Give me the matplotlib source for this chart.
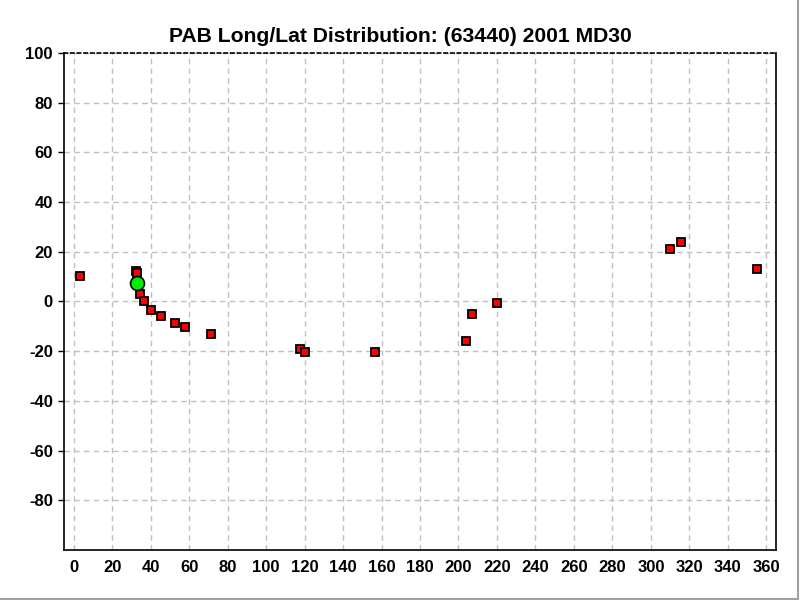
import matplotlib
matplotlib.use('Agg')
import matplotlib.pyplot as plt
from matplotlib.lines import Line2D

plt.rcParams['font.family'] = ['Liberation Sans', 'DejaVu Sans']
plt.rcParams['axes.unicode_minus'] = False

# observed long/lat of the red squares
long_obs = [3.3, 32.4, 33.0, 34.5, 36.6, 40.2, 45.4, 52.7, 57.9, 71.4,
            117.8, 120.3, 156.8, 203.8, 207.2, 220.2, 309.7, 315.4, 355.0]
lat_obs = [10.3, 12.4, 11.4, 3.1, 0.0, -3.3, -5.7, -8.6, -10.2, -13.0,
           -19.0, -20.2, -20.2, -15.8, -4.9, -0.5, 21.2, 24.0, 13.1]

# current position (green circle)
long_now = [33.1]
lat_now = [7.3]

xticks = list(range(0, 361, 20))
yticks = list(range(-80, 101, 20))

fig = plt.figure(figsize=(8, 6), dpi=100)
ax = fig.add_axes([0.08, 0.0833, 0.89, 0.8284])

ax.plot(long_obs, lat_obs, linestyle='none', marker='s', markersize=6.4,
        markerfacecolor='#ff0000', markeredgecolor='black', markeredgewidth=1.3, zorder=3)
ax.plot(long_now, lat_now, linestyle='none', marker='o', markersize=10,
        markerfacecolor='#00ee00', markeredgecolor='black', markeredgewidth=1.2, zorder=4)

ax.set_xlim(-5, 365)
ax.set_ylim(-100, 100)
ax.set_xticks(xticks)
ax.set_yticks(yticks)
ax.grid(True, color='#c0c0c0', linestyle=(0, (4, 3)), linewidth=1)
ax.set_axisbelow(True)

for lab in ax.get_xticklabels() + ax.get_yticklabels():
    lab.set_fontweight('bold')
    lab.set_fontsize(12)
ax.tick_params(axis='both', direction='out', length=4, width=1, colors='black', pad=4)
ax.tick_params(axis='x', length=0, pad=7)

ax.spines['top'].set_linestyle((0, (2, 2)))
for s in ax.spines.values():
    s.set_linewidth(1.2)

# title is centred on the whole window, not the axes
fig.text(0.5, 0.94, 'PAB Long/Lat Distribution: (63440) 2001 MD30', fontsize=15.2,
         fontweight='bold', ha='center', va='center')

# window border lines
fig.add_artist(Line2D([0, 0.9975], [0.0017, 0.0017], color='#a0a0a0', linewidth=1.5,
                      transform=fig.transFigure))
fig.add_artist(Line2D([0.9975, 0.9975], [0.0017, 1], color='#a0a0a0', linewidth=1.5,
                      transform=fig.transFigure))

plt.savefig('out.png', dpi=100)
